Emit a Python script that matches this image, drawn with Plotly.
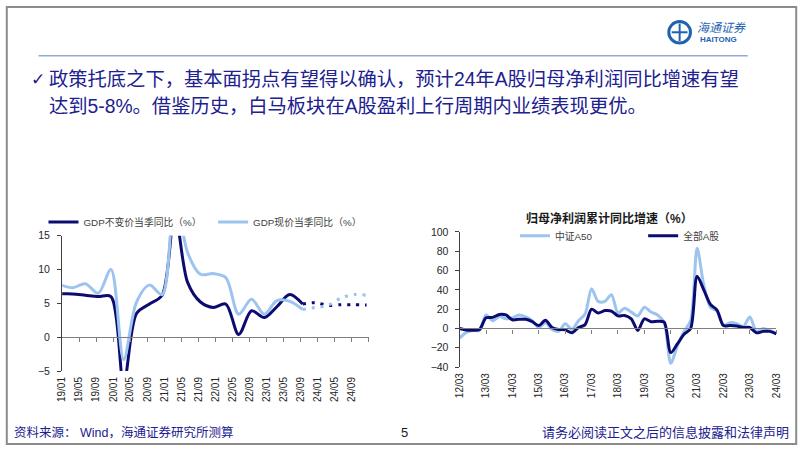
import plotly.graph_objects as go

W, H = 802, 451


def px(x):
    return x / W


def py(y):
    return 1 - y / H


# ---------------- Left chart data (GDP, quarterly) ----------------
gdp_quarters = ["2018-12", "2019-03", "2019-06", "2019-09", "2019-12",
                "2020-03", "2020-06", "2020-09", "2020-12",
                "2021-03", "2021-06", "2021-09", "2021-12",
                "2022-03", "2022-06", "2022-09", "2022-12",
                "2023-03", "2023-06", "2023-09"]
gdp_real = [6.4, 6.4, 6.2, 6.0, 6.0,
            -6.8, 3.5, 4.9, 6.2,
            18.3, 8.1, 5.2, 4.4,
            4.9, 0.4, 3.9, 2.9,
            4.5, 6.3, 4.9]
gdp_nominal = [7.8, 7.3, 7.9, 6.5, 10.0,
               -3.3, 5.2, 7.7, 6.3,
               21.2, 12.5, 9.3, 9.4,
               8.8, 3.4, 5.6, 3.4,
               5.4, 5.3, 4.1]
fc_quarters = ["2023-09", "2023-12", "2024-03", "2024-06", "2024-09", "2024-12"]
gdp_real_fc = [4.9, 5.1, 4.7, 4.8, 4.8, 4.75]
gdp_nominal_fc = [4.1, 4.4, 4.7, 5.8, 6.3, 6.2]

left_tick_dates = ["2019-01", "2019-05", "2019-09", "2020-01", "2020-05", "2020-09",
                   "2021-01", "2021-05", "2021-09", "2022-01", "2022-05", "2022-09",
                   "2023-01", "2023-05", "2023-09", "2024-01", "2024-05", "2024-09"]
left_tick_labels = ["19/01", "19/05", "19/09", "20/01", "20/05", "20/09",
                    "21/01", "21/05", "21/09", "22/01", "22/05", "22/09",
                    "23/01", "23/05", "23/09", "24/01", "24/05", "24/09"]
left_minor_ticks = left_tick_dates[1:] + ["2025-01"]

# ---------------- Right chart data (profit growth, quarterly) ----------------
profit_quarters = ["2012-03", "2012-06", "2012-09", "2012-12",
                   "2013-03", "2013-06", "2013-09", "2013-12",
                   "2014-03", "2014-06", "2014-09", "2014-12",
                   "2015-03", "2015-06", "2015-09", "2015-12",
                   "2016-03", "2016-06", "2016-09", "2016-12",
                   "2017-03", "2017-06", "2017-09", "2017-12",
                   "2018-03", "2018-06", "2018-09", "2018-12",
                   "2019-03", "2019-06", "2019-09", "2019-12",
                   "2020-03", "2020-06", "2020-09", "2020-12",
                   "2021-03", "2021-06", "2021-09", "2021-12",
                   "2022-03", "2022-06", "2022-09", "2022-12",
                   "2023-03", "2023-06", "2023-09", "2023-12",
                   "2024-03"]
csi_a50 = [-10, -4, -2, -2,
           14, 8, 12.5, 10,
           11, 14, 12, 8,
           1, 6, -1, -3,
           5, -1, 8, 15,
           41, 28, 28, 35,
           16, 21, 17, 13,
           22, 17, 14, 6,
           -36, -18, -3, 8,
           83, 45, 22, 18,
           3, 6, 5, 2,
           12, -3, 0, -2,
           -5]
all_a = [0, -1.5, -1.8, -1,
         11, 11.5, 14.5, 14,
         9, 9.5, 9.5, 7,
         3, 8.5, 1, -1,
         -1.5, -4.5, 1, 4,
         20, 16, 18.5, 18,
         13, 13.5, 10, -2,
         10, 7, 7.5, 6.5,
         -25, -16, -6, 0,
         54, 40, 25, 19,
         3, 3, 2.5, 1,
         1, -4.5, -3, -3,
         -5.5]
right_tick_dates = ["2012-03", "2013-03", "2014-03", "2015-03", "2016-03", "2017-03",
                    "2018-03", "2019-03", "2020-03", "2021-03", "2022-03", "2023-03",
                    "2024-03"]
right_tick_labels = ["12/03", "13/03", "14/03", "15/03", "16/03", "17/03",
                     "18/03", "19/03", "20/03", "21/03", "22/03", "23/03", "24/03"]

DARK = "#0c0c70"
LIGHT = "#9cc4ef"
NAVY_TEXT = "#20208f"
FONT = "Liberation Sans, Noto Sans CJK SC, DejaVu Sans, sans-serif"


def mid(q):
    return q + "-15"


def first(q):
    return q + "-01"


fig = go.Figure()

# Left chart
fig.add_trace(go.Scatter(
    x=[mid(q) for q in gdp_quarters], y=gdp_real, mode="lines",
    line=dict(color=DARK, width=3, shape="spline", smoothing=0.9),
    name="GDP不变价当季同比（%）", legend="legend", xaxis="x", yaxis="y",
    hoverinfo="skip"))
fig.add_trace(go.Scatter(
    x=[mid(q) for q in fc_quarters], y=gdp_real_fc, mode="lines",
    line=dict(color=DARK, width=3, shape="spline", smoothing=0.9, dash="3px,6px"),
    showlegend=False, xaxis="x", yaxis="y", hoverinfo="skip"))
fig.add_trace(go.Scatter(
    x=[mid(q) for q in gdp_quarters], y=gdp_nominal, mode="lines",
    line=dict(color=LIGHT, width=3, shape="spline", smoothing=0.9),
    name="GDP现价当季同比（%）", legend="legend2", xaxis="x", yaxis="y",
    hoverinfo="skip"))
fig.add_trace(go.Scatter(
    x=[mid(q) for q in fc_quarters], y=gdp_nominal_fc, mode="lines",
    line=dict(color=LIGHT, width=3, shape="spline", smoothing=0.9, dash="3px,6px"),
    showlegend=False, xaxis="x", yaxis="y", hoverinfo="skip"))
fig.add_trace(go.Scatter(x=[], y=[], xaxis="x3", yaxis="y", showlegend=False,
                         hoverinfo="skip"))

# Right chart
fig.add_trace(go.Scatter(
    x=[first(q) for q in profit_quarters], y=csi_a50, mode="lines",
    line=dict(color=LIGHT, width=3, shape="spline", smoothing=0.8),
    name="中证A50", legend="legend3", xaxis="x2", yaxis="y2", hoverinfo="skip"))
fig.add_trace(go.Scatter(
    x=[first(q) for q in profit_quarters], y=all_a, mode="lines",
    line=dict(color=DARK, width=3, shape="spline", smoothing=0.8),
    name="全部A股", legend="legend4", xaxis="x2", yaxis="y2", hoverinfo="skip"))
fig.add_trace(go.Scatter(x=[], y=[], xaxis="x4", yaxis="y2", showlegend=False,
                         hoverinfo="skip"))

# axis geometry
L_Y = [-5, 15]
R_Y = [-40, 100]
l_dom_y = [py(375), py(236)]
r_dom_y = [py(371), py(232)]


def zero_pos(dom, rng):
    return dom[0] + (0 - rng[0]) / (rng[1] - rng[0]) * (dom[1] - dom[0])


tick_font = dict(family=FONT, size=10.5, color="#262626")
axis_col = "#404040"

legend_common = dict(orientation="h", bgcolor="rgba(0,0,0,0)", xanchor="left",
                     yanchor="middle", font=dict(family=FONT, size=9.8, color="#404040"),
                     itemwidth=30, tracegroupgap=0)

fig.update_layout(
    width=W, height=H, autosize=False,
    margin=dict(l=0, r=0, t=0, b=0),
    paper_bgcolor="white", plot_bgcolor="rgba(0,0,0,0)",
    font=dict(family=FONT),
    xaxis=dict(domain=[px(57), px(368)], anchor="y", type="date",
               range=["2019-01-01", "2025-01-01"],
               tickvals=[first(d) for d in left_tick_dates], ticktext=left_tick_labels,
               tickangle=-90, tickfont=dict(family=FONT, size=10, color="#262626"),
               ticklabelstandoff=3,
               showline=False, showgrid=False, zeroline=False, ticks=""),
    xaxis3=dict(overlaying="x", anchor="free", position=zero_pos(l_dom_y, L_Y),
                type="date", range=["2019-01-01", "2025-01-01"],
                tickvals=[first(d) for d in left_minor_ticks], showticklabels=False,
                showline=True, linecolor="#7f7f7f", linewidth=1.3,
                ticks="outside", ticklen=4, tickcolor="#7f7f7f", tickwidth=1,
                showgrid=False, zeroline=False),
    yaxis=dict(domain=l_dom_y, anchor="x", range=L_Y, dtick=5, tick0=0,
               showline=True, linecolor=axis_col, linewidth=1.3,
               ticks="outside", ticklen=4, tickcolor=axis_col, ticklabelstandoff=5,
               showgrid=False, zeroline=False, tickfont=tick_font),
    xaxis2=dict(domain=[px(460), px(781)], anchor="y2", type="date",
                range=["2012-03-01", "2024-03-01"],
                tickvals=[first(d) for d in right_tick_dates], ticktext=right_tick_labels,
                tickangle=-90, tickfont=dict(family=FONT, size=10, color="#262626"),
                ticklabelstandoff=3,
                showline=False, showgrid=False, zeroline=False, ticks=""),
    xaxis4=dict(overlaying="x2", anchor="free", position=zero_pos(r_dom_y, R_Y),
                type="date", range=["2012-03-01", "2024-03-01"],
                tickvals=[first(d) for d in right_tick_dates[1:]], showticklabels=False,
                showline=True, linecolor="#7f7f7f", linewidth=1.3,
                ticks="outside", ticklen=4, tickcolor="#7f7f7f", tickwidth=1,
                showgrid=False, zeroline=False),
    yaxis2=dict(domain=r_dom_y, anchor="x2", range=R_Y, dtick=20, tick0=0,
                showline=True, linecolor=axis_col, linewidth=1.3,
                ticks="outside", ticklen=4, tickcolor=axis_col, ticklabelstandoff=4,
                showgrid=False, zeroline=False, tickfont=tick_font),
    legend=dict(x=px(38), y=py(222), **legend_common),
    legend2=dict(x=px(210), y=py(222), **legend_common),
    legend3=dict(x=px(516), y=py(236), **legend_common),
    legend4=dict(x=px(646), y=py(236), **legend_common),
)

# slide decoration
P = dict(xref="paper", yref="paper")
shapes = [
    dict(type="rect", x0=0.001, y0=0.002, x1=0.999, y1=0.998,
         line=dict(color="#8c8c8c", width=2), fillcolor="rgba(0,0,0,0)", layer="below", **P),
    dict(type="line", x0=px(33), x1=px(752), y0=py(51), y1=py(51),
         line=dict(color="#8fa9d8", width=1.5), **P),
    dict(type="circle", x0=px(672), x1=px(694), y0=py(38), y1=py(16),
         line=dict(color="#1e63b0", width=3), **P),
    dict(type="line", x0=px(683), x1=px(683), y0=py(36), y1=py(18),
         line=dict(color="#1e63b0", width=2), **P),
    dict(type="line", x0=px(675), x1=px(691), y0=py(27), y1=py(27),
         line=dict(color="#1e63b0", width=2), **P),
]
fig.update_layout(shapes=shapes)

annotations = [
    dict(x=px(23), y=py(75), text="✓", xanchor="left", yanchor="middle",
         font=dict(family="DejaVu Sans", size=17, color=NAVY_TEXT)),
    dict(x=px(42), y=py(75),
         text="政策托底之下，基本面拐点有望得以确认，预计24年A股归母净利润同比增速有望",
         xanchor="left", yanchor="middle",
         font=dict(family=FONT, size=19.3, color=NAVY_TEXT)),
    dict(x=px(42), y=py(103),
         text="达到5-8%。借鉴历史，白马板块在A股盈利上行周期内业绩表现更优。",
         xanchor="left", yanchor="middle",
         font=dict(family=FONT, size=19.3, color=NAVY_TEXT)),
    dict(x=px(612), y=py(218), text="<b>归母净利润累计同比增速（%）</b>",
         xanchor="center", yanchor="middle",
         font=dict(family=FONT, size=12, color="#1a1a1a")),
    dict(x=px(6), y=py(438), text="资料来源： Wind，海通证券研究所测算",
         xanchor="left", yanchor="middle", font=dict(family=FONT, size=12.5, color=NAVY_TEXT)),
    dict(x=px(404), y=py(438), text="5", xanchor="center", yanchor="middle",
         font=dict(family=FONT, size=13, color="#1a1a1a")),
    dict(x=px(796), y=py(438), text="请务必阅读正文之后的信息披露和法律声明",
         xanchor="right", yanchor="middle", font=dict(family=FONT, size=13, color=NAVY_TEXT)),
    dict(x=px(699), y=py(21), text="<i>海通证券</i>", xanchor="left",
         yanchor="middle", font=dict(family="Noto Sans CJK SC", size=12, color="#1e63b0")),
    dict(x=px(702), y=py(34), text="<b>HAITONG</b>", xanchor="left",
         yanchor="middle", font=dict(family="Liberation Sans", size=8, color="#1e63b0")),
]
for a in annotations:
    a.update(xref="paper", yref="paper", showarrow=False)
fig.update_layout(annotations=annotations)

fig.write_html("out.html", config={"displayModeBar": False},
               post_script="document.body.style.margin='0';document.body.style.overflow='hidden';")
